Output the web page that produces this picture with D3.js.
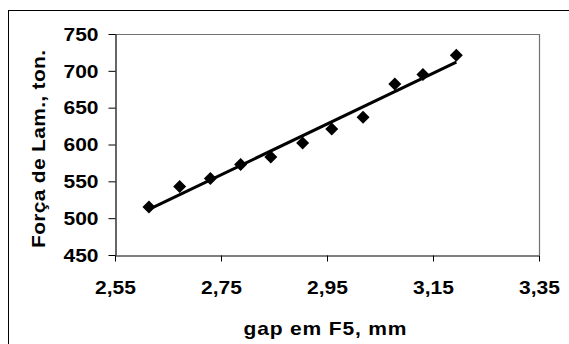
<!DOCTYPE html>
<html>
<head>
<meta charset="utf-8">
<script src="https://cdn.jsdelivr.net/npm/d3@7"></script>
<style>
  html, body { margin: 0; padding: 0; background: #fff; }
  svg { display: block; }
  text { font-family: "Liberation Sans", Arial, sans-serif; font-weight: bold; fill: #000; }
</style>
</head>
<body>
<svg id="chart" width="569" height="344"></svg>
<script>
// ---- data ----
const gap = [2.614, 2.672, 2.730, 2.787, 2.844, 2.904, 2.959, 3.018, 3.078, 3.131, 3.194];
const forca = [515, 543, 554, 573, 583, 602, 621, 637, 682, 695, 721];
const xTicks = [2.55, 2.75, 2.95, 3.15, 3.35];
const yTicks = [450, 500, 550, 600, 650, 700, 750];
const xTitle = "gap em F5, mm";
const yTitle = "Força de Lam., ton.";

const svg = d3.select("#chart");
const W = 569, H = 344;
const plot = { left: 115, right: 539, top: 34, bottom: 255 };
const sx = 1.2; // horizontal glyph stretch as in the reference

svg.append("rect").attr("width", W).attr("height", H).attr("fill", "#fff");
// outer chart border (clipped at right/bottom of image)
svg.append("rect").attr("x", 8.5).attr("y", 10.5).attr("width", W).attr("height", H)
  .attr("fill", "none").attr("stroke", "#000").attr("stroke-width", 1);

const x = d3.scaleLinear().domain([2.55, 3.35]).range([plot.left, plot.right]);
const y = d3.scaleLinear().domain([450, 750]).range([plot.bottom, plot.top]);

// plot area border (top/right gray)
svg.append("path")
  .attr("d", `M${plot.left},${plot.top + 0.5}H${plot.right + 0.5}V${plot.bottom}`)
  .attr("fill", "none").attr("stroke", "#707070").attr("stroke-width", 1.2);

const fmt = d => d3.format(".2f")(d).replace(".", ",");

// x axis
const xAxis = svg.append("g").attr("transform", `translate(0,${plot.bottom + 0.5})`)
  .call(d3.axisBottom(x).tickValues(xTicks).tickSize(6).tickSizeOuter(0).tickFormat(fmt));
xAxis.select(".domain").attr("stroke", "#000").attr("stroke-width", 1.2);
xAxis.selectAll(".tick line").attr("stroke", "#000");
xAxis.selectAll(".tick text").attr("y", 0).attr("dy", 0)
  .attr("transform", `translate(0,38) scale(${sx},1)`)
  .style("font-size", "17.5px");

// y axis
const yAxis = svg.append("g").attr("transform", `translate(${plot.left + 0.5},0)`)
  .call(d3.axisLeft(y).tickValues(yTicks).tickSize(7).tickSizeOuter(0).tickFormat(d3.format("d")));
yAxis.select(".domain").attr("stroke", "#000").attr("stroke-width", 1.2);
yAxis.selectAll(".tick line").attr("stroke", "#000");
yAxis.selectAll(".tick text").attr("x", 0).attr("dy", "0.36em")
  .attr("transform", `translate(-17,0) scale(${sx},1)`)
  .style("font-size", "17.5px");

// linear trendline (least squares from data)
const mx = d3.mean(gap), my = d3.mean(forca);
const sxy = d3.sum(gap, (g, i) => (g - mx) * (forca[i] - my));
const sxx = d3.sum(gap, g => (g - mx) * (g - mx));
const slope = sxy / sxx, icpt = my - slope * mx;
const x0 = d3.min(gap), x1 = d3.max(gap);
svg.append("line")
  .attr("x1", x(x0)).attr("y1", y(icpt + slope * x0))
  .attr("x2", x(x1)).attr("y2", y(icpt + slope * x1))
  .attr("stroke", "#000").attr("stroke-width", 3);

// diamond markers
const r = 6.5;
svg.append("g").selectAll("path").data(gap).join("path")
  .attr("d", (g, i) => {
    const cx = x(g), cy = y(forca[i]);
    return `M${cx},${cy - r}L${cx + r},${cy}L${cx},${cy + r}L${cx - r},${cy}Z`;
  })
  .attr("fill", "#000");

// axis titles
svg.append("text").attr("transform", `translate(325,335) scale(${sx},1)`).attr("text-anchor", "middle")
  .attr("textLength", 163 / sx).attr("lengthAdjust", "spacing")
  .style("font-size", "17.5px").text(xTitle);
svg.append("text").attr("transform", `translate(45,149) rotate(-90) scale(${sx},1)`).attr("text-anchor", "middle")
  .attr("textLength", 198 / sx).attr("lengthAdjust", "spacing")
  .style("font-size", "17.5px").text(yTitle);
</script>
</body>
</html>
